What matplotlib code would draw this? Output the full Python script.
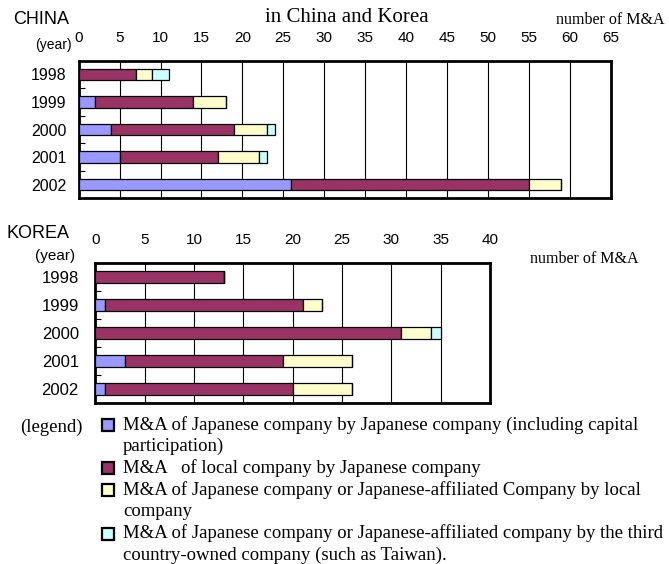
import numpy as np
import matplotlib.pyplot as plt
from matplotlib.patches import Rectangle

# M&A counts per year, stacked by type
years = ["1998", "1999", "2000", "2001", "2002"]

china_jp_by_jp = [0, 2, 4, 5, 26]
china_local_by_jp = [7, 12, 15, 12, 29]
china_jp_by_local = [2, 4, 4, 5, 4]
china_jp_by_third = [2, 0, 1, 1, 0]

korea_jp_by_jp = [0, 1, 0, 3, 1]
korea_local_by_jp = [13, 20, 31, 16, 19]
korea_jp_by_local = [0, 2, 3, 7, 6]
korea_jp_by_third = [0, 0, 1, 0, 0]

china_ticks = list(range(0, 70, 5))
korea_ticks = list(range(0, 45, 5))

colors = ["#9999FF", "#993366", "#FFFFCC", "#CCFFFF"]
legend_lines = [
    ["M&A of Japanese company by Japanese company (including capital",
     "participation)"],
    ["M&A   of local company by Japanese company"],
    ["M&A of Japanese company or Japanese-affiliated Company by local",
     "company"],
    ["M&A of Japanese company or Japanese-affiliated company by the third",
     "country-owned company (such as Taiwan)."],
]

W, H = 669, 564
fig = plt.figure(figsize=(W / 100, H / 100), dpi=100)
SANS = "Liberation Sans"
SERIF = "Liberation Serif"


def px(x, y):
    return x / W, 1 - y / H


def draw_panel(rect, series, ticks, xmax, ypad, bar_h, yfs):
    x0, y0, x1, y1 = rect
    ax = fig.add_axes([x0 / W, 1 - y1 / H, (x1 - x0) / W, (y1 - y0) / H])
    pos = np.arange(len(years))
    left = np.zeros(len(years))
    for vals, c in zip(series, colors):
        vals = np.array(vals, dtype=float)
        ax.barh(pos, vals, left=left, height=bar_h, color=c,
                edgecolor="black", linewidth=0.9, zorder=3)
        left += vals
    ax.set_xlim(0, xmax)
    ax.set_ylim(len(years) - 0.5, -0.5)
    ax.xaxis.tick_top()
    ax.set_xticks(ticks)
    ax.set_xticklabels([str(t) for t in ticks], fontsize=11, family=SANS)
    ax.tick_params(axis="x", length=0, pad=11)
    ax.set_yticks(pos)
    ax.set_yticklabels(years, fontsize=yfs, family=SANS)
    ax.tick_params(axis="y", length=0, pad=ypad)
    ax.set_yticks(np.arange(0.5, len(years) - 0.5, 1), minor=True)
    ax.tick_params(axis="y", which="minor", direction="in", length=4,
                   width=0.8)
    ax.grid(axis="x", color="black", linewidth=0.8, zorder=1)
    for s in ax.spines.values():
        s.set_linewidth(2)
    return ax


china = draw_panel((78.7, 60.7, 610.5, 198.3),
                   [china_jp_by_jp, china_local_by_jp,
                    china_jp_by_local, china_jp_by_third],
                   china_ticks, 65, 9, 0.42, 11.5)
korea = draw_panel((95.5, 262.7, 490, 403.3),
                   [korea_jp_by_jp, korea_local_by_jp,
                    korea_jp_by_local, korea_jp_by_third],
                   korea_ticks, 40, 12, 0.43, 12)

# headings
fig.text(*px(13, 19), "CHINA", fontsize=13, family=SANS, va="center")
fig.text(*px(347, 18), "in China and Korea", fontsize=15, family=SERIF,
         ha="center", va="center")
fig.text(*px(665, 20), "number of M&A", fontsize=11.5, family=SERIF,
         ha="right", va="center")
fig.text(*px(35, 45), "(year)", fontsize=10, family=SANS, va="center")

fig.text(*px(7, 233), "KOREA", fontsize=13, family=SANS, va="center")
fig.text(*px(530, 259), "number of M&A", fontsize=11.5, family=SERIF,
         va="center")
fig.text(*px(35, 256), "(year)", fontsize=11, family=SANS, va="center")

# legend block
fig.text(*px(20, 427), "(legend)", fontsize=13.5, family=SERIF, va="center")
y = 425
for lines, c in zip(legend_lines, colors):
    sx, sy = px(102, y + 6)
    fig.patches.append(Rectangle((sx, sy), 12 / W, 12 / H, facecolor=c,
                                 edgecolor="black", linewidth=1.6,
                                 transform=fig.transFigure, figure=fig))
    for line in lines:
        fig.text(*px(123, y), line, fontsize=13.5, family=SERIF, va="center")
        y += 21.7

fig.savefig("out.png", dpi=100)
